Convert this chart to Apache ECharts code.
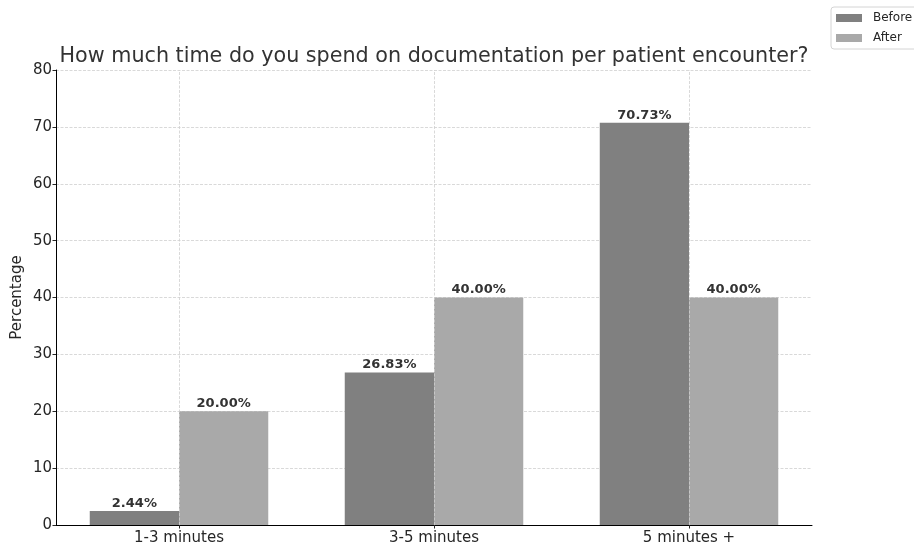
<!DOCTYPE html>
<html>
<head>
<meta charset="utf-8">
<script src="https://cdn.jsdelivr.net/npm/echarts@6/dist/echarts.min.js"></script>
<style>
  html, body { margin: 0; padding: 0; background: #fff; }
  #chart { width: 914px; height: 546px; }
</style>
</head>
<body>
<div id="chart"></div>
<script>
// Survey responses: time spent on documentation per encounter
const categories = ['1-3 minutes', '3-5 minutes', '5 minutes +'];
const beforeValues = [2.44, 26.83, 70.73];
const afterValues = [20.00, 40.00, 40.00];
const seriesNames = ['Before', 'After'];
const yTicks = { min: 0, max: 80, step: 10 };

const FONT = 'DejaVu Sans';
const TEXT = '#262626';
const GRID_LINE = { color: '#cfcfcf', width: 0.8, type: [3, 1.5] };

const chart = echarts.init(document.getElementById('chart'), null, { renderer: 'canvas' });

const barLabel = {
  show: true,
  position: 'top',
  distance: 1,
  fontFamily: FONT,
  fontWeight: 'bold',
  fontSize: 13,
  color: '#333',
  formatter: p => p.value.toFixed(2) + '%'
};

chart.setOption({
  animation: false,
  title: {
    text: 'How much time do you spend on documentation per patient encounter?',
    left: 429,
    top: 41,
    textAlign: 'center',
    textStyle: { fontFamily: FONT, fontSize: 20.7, fontWeight: 'normal', color: '#333' }
  },
  legend: {
    data: seriesNames,
    orient: 'vertical',
    left: 831,
    top: 7,
    padding: [4, 5, 4, 5],
    itemGap: 6,
    itemWidth: 26,
    itemHeight: 8,
    icon: 'rect',
    borderColor: '#d4d4d4',
    borderWidth: 1,
    borderRadius: 3,
    textStyle: { fontFamily: FONT, fontSize: 12, color: TEXT, padding: [0, 0, 0, 6], lineHeight: 14 }
  },
  grid: [
    // band layout for the bars and category labels
    { left: 51.5, right: 97.5, top: 70, bottom: 21, containLabel: false },
    // frame with spines and value gridlines
    { left: 56, right: 102, top: 70, bottom: 21, containLabel: false }
  ],
  xAxis: [
    {
      type: 'category',
      gridIndex: 0,
      data: categories,
      axisLine: { show: false },
      axisTick: { show: true, alignWithLabel: true, length: 3.5, lineStyle: { color: TEXT } },
      axisLabel: { fontFamily: FONT, fontSize: 15, color: TEXT, margin: 6 },
      splitLine: { show: false }
    },
    {
      type: 'value',
      gridIndex: 1,
      min: 0,
      max: 1,
      axisLine: { show: true, lineStyle: { color: '#000', width: 1 } },
      axisTick: { show: false },
      axisLabel: { show: false },
      splitLine: { show: false }
    }
  ],
  yAxis: [
    {
      type: 'value',
      gridIndex: 0,
      min: yTicks.min,
      max: yTicks.max,
      show: false
    },
    {
      type: 'value',
      gridIndex: 1,
      min: yTicks.min,
      max: yTicks.max,
      interval: yTicks.step,
      name: 'Percentage',
      nameLocation: 'middle',
      nameGap: 31,
      nameMoveOverlap: false,
      nameTextStyle: { fontFamily: FONT, fontSize: 15, color: TEXT },
      axisLine: { show: true, lineStyle: { color: '#000', width: 1 } },
      axisTick: { show: true, length: 3.5, lineStyle: { color: TEXT } },
      axisLabel: { fontFamily: FONT, fontSize: 15, color: TEXT, margin: 4 },
      splitLine: { show: true, lineStyle: GRID_LINE }
    }
  ],
  series: [
    {
      // vertical gridlines at each category
      name: 'grid-x',
      type: 'line',
      xAxisIndex: 0,
      yAxisIndex: 0,
      data: categories.map(() => '-'),
      z: 1,
      silent: true,
      symbol: 'none',
      lineStyle: { opacity: 0 },
      markLine: {
        silent: true,
        symbol: 'none',
        label: { show: false },
        lineStyle: GRID_LINE,
        data: categories.map(c => ({ xAxis: c }))
      }
    },
    {
      name: seriesNames[0],
      type: 'bar',
      xAxisIndex: 0,
      yAxisIndex: 0,
      z: 3,
      data: beforeValues,
      barWidth: 89.25,
      barGap: '0%',
      itemStyle: { color: '#808080' },
      label: barLabel
    },
    {
      name: seriesNames[1],
      type: 'bar',
      xAxisIndex: 0,
      yAxisIndex: 0,
      z: 3,
      data: afterValues,
      barWidth: 89.25,
      barGap: '0%',
      itemStyle: { color: '#a9a9a9' },
      label: barLabel
    }
  ]
});
</script>
</body>
</html>
